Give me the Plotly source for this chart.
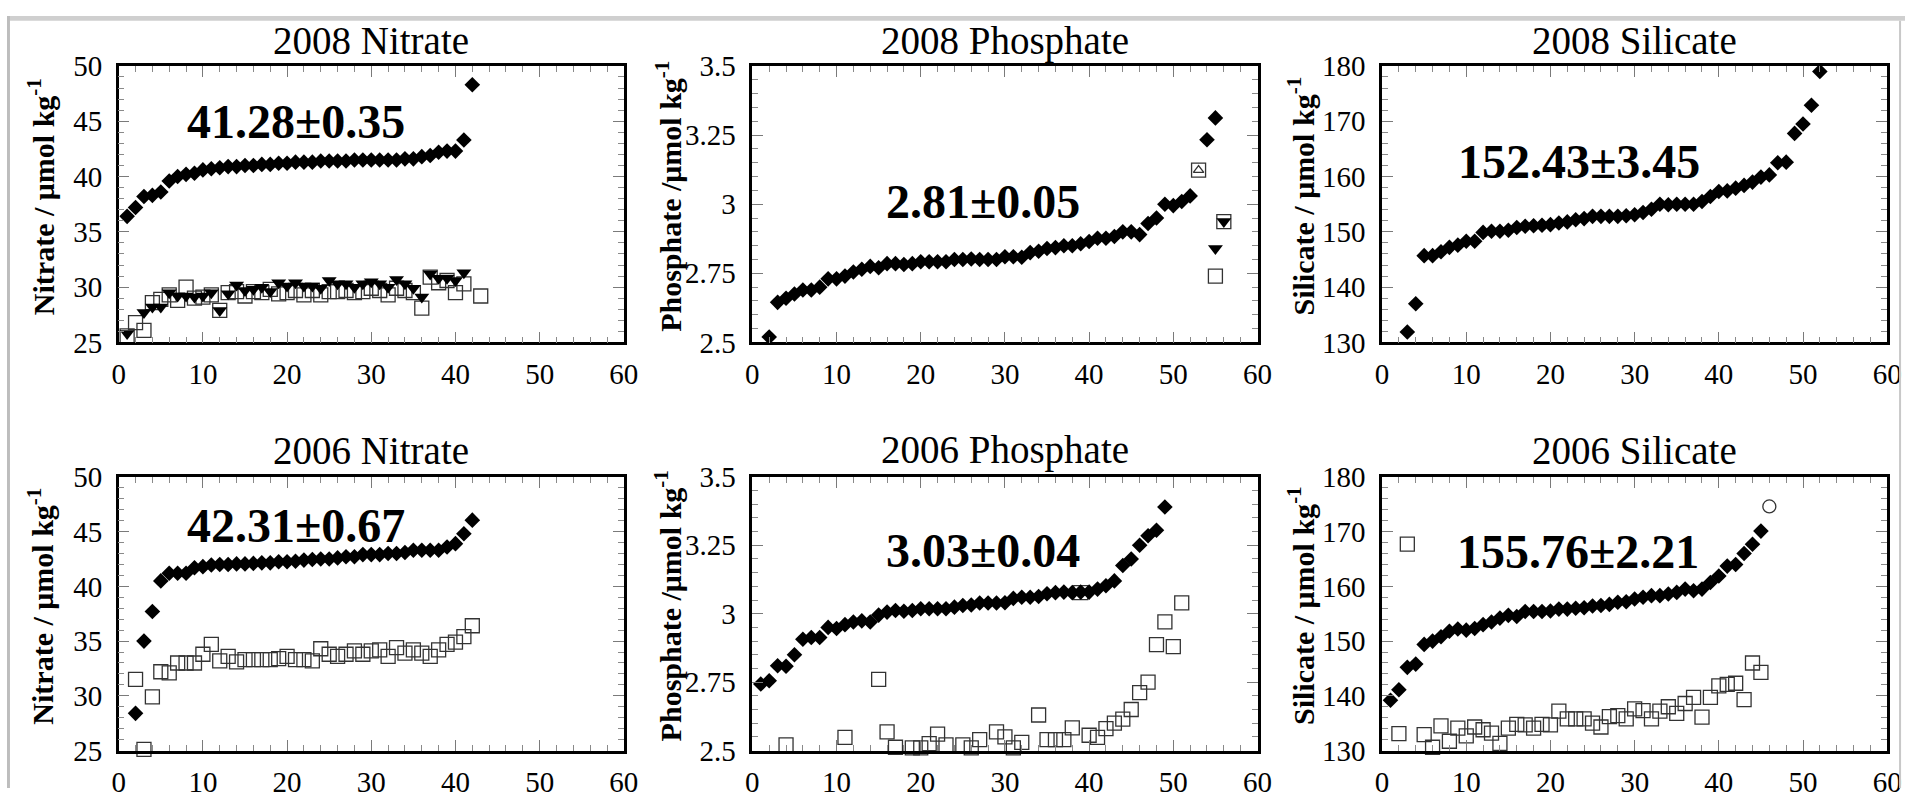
import plotly.graph_objects as go

# ---------------- data ----------------
n08_d_x = list(range(1, 43))
n08_d_y = [36.4, 37.2, 38.2, 38.3, 38.6, 39.6, 40.0, 40.2, 40.3, 40.6,
           40.7, 40.8, 40.9, 40.9, 41.0, 41.0, 41.1, 41.1, 41.2, 41.2,
           41.3, 41.3, 41.3, 41.4, 41.4, 41.4, 41.4, 41.5, 41.5, 41.5,
           41.5, 41.5, 41.5, 41.6, 41.6, 41.8, 41.9, 42.2, 42.3, 42.3,
           43.3, 48.3]
n08_sq_x = list(range(1, 42)) + [43]
n08_sq_y = [25.6, 26.8, 26.1, 28.6, 28.9, 29.3, 28.8, 30.0, 29.0, 29.1,
            29.3, 27.9, 29.5, 29.6, 29.2, 29.6, 29.5, 29.8, 29.4, 29.5,
            29.7, 29.3, 29.7, 29.3, 29.6, 29.6, 29.7, 29.5, 29.6, 29.9,
            29.7, 29.3, 29.9, 29.7, 29.5, 28.1, 30.9, 30.4, 30.6, 29.5,
            30.3, 29.2]
n08_tri_x = [1] + list(range(3, 42))
n08_tri_y = [25.8, 27.7, 28.2, 28.2, 29.5, 29.2, 29.2, 29.1, 29.2, 29.5,
             27.9, 29.4, 30.2, 29.7, 29.8, 30.0, 29.6, 30.4, 30.1, 30.4,
             30.1, 30.1, 29.9, 30.6, 30.3, 30.3, 30.0, 30.3, 30.5, 30.3,
             30.0, 30.7, 30.3, 29.9, 29.1, 31.2, 30.8, 30.8, 30.6, 31.3]

p08_d_x = list(range(2, 53)) + [54, 55]
p08_d_y = [2.52, 2.645, 2.66, 2.675, 2.69, 2.69, 2.70, 2.73, 2.73, 2.74,
           2.755, 2.765, 2.775, 2.77, 2.785, 2.785, 2.782, 2.785, 2.792, 2.792,
           2.792, 2.792, 2.80, 2.80, 2.802, 2.80, 2.80, 2.80, 2.81, 2.81,
           2.808, 2.825, 2.83, 2.84, 2.843, 2.85, 2.85, 2.857, 2.865, 2.877,
           2.877, 2.883, 2.90, 2.90, 2.89, 2.93, 2.95, 3.00, 2.995, 3.01,
           3.03, 3.233, 3.312]
p08_sq_x = [53, 55, 56]
p08_sq_y = [3.123, 2.74, 2.937]
p08_tri_x = [55, 56]
p08_tri_y = [2.84, 2.937]
p08_otri_x = [53]
p08_otri_y = [3.123]

s08_d_x = list(range(3, 53))
s08_d_y = [131.9, 137.0, 145.7, 145.7, 146.4, 147.2, 147.6, 148.3, 148.3, 149.9,
           150.1, 150.1, 150.3, 150.8, 151.0, 151.1, 151.2, 151.3, 151.6, 151.8,
           152.2, 152.4, 152.8, 152.8, 152.8, 152.8, 152.9, 153.1, 153.5, 154.1,
           155.0, 154.9, 155.0, 155.0, 155.0, 155.5, 156.4, 157.3, 157.4, 157.9,
           158.4, 159.0, 159.9, 160.3, 162.5, 162.6, 167.8, 169.5, 172.9, 179.0]

n06_d_x = list(range(2, 43))
n06_d_y = [28.4, 35.0, 37.7, 40.5, 41.2, 41.2, 41.2, 41.7, 41.8, 41.95,
           42.0, 42.0, 42.05, 42.05, 42.1, 42.15, 42.15, 42.25, 42.25, 42.3,
           42.4, 42.45, 42.5, 42.5, 42.6, 42.7, 42.7, 42.9, 42.9, 42.9,
           43.0, 43.0, 43.1, 43.3, 43.3, 43.3, 43.3, 43.6, 43.9, 44.8, 46.05]
n06_sq_x = list(range(2, 43))
n06_sq_y = [31.5, 25.1, 29.9, 32.2, 32.1, 33.0, 33.0, 33.0, 33.8, 34.7,
            33.2, 33.6, 33.1, 33.3, 33.3, 33.3, 33.3, 33.4, 33.6, 33.3,
            33.3, 33.2, 34.3, 33.8, 33.6, 33.8, 34.1, 33.8, 34.1, 34.2,
            33.6, 34.4, 33.9, 34.2, 33.9, 33.6, 34.2, 34.7, 34.9, 35.4, 36.4]

p06_d_x = list(range(1, 50))
p06_d_y = [2.743, 2.755, 2.81, 2.808, 2.85, 2.907, 2.913, 2.913, 2.95, 2.946,
           2.96, 2.97, 2.974, 2.97, 2.995, 3.006, 3.012, 3.009, 3.012, 3.018,
           3.018, 3.018, 3.018, 3.024, 3.03, 3.032, 3.039, 3.039, 3.039, 3.04,
           3.056, 3.06, 3.06, 3.063, 3.073, 3.077, 3.079, 3.077, 3.079, 3.079,
           3.09, 3.102, 3.12, 3.176, 3.2, 3.25, 3.285, 3.305, 3.39]
p06_sq_x = [4, 11, 15, 16, 17, 19, 20, 21, 22, 23, 25, 26, 27, 29, 30, 31, 32,
            34, 35, 36, 37, 38, 39, 40, 41, 42, 43, 44, 45, 46, 47, 48, 49, 50, 51]
p06_sq_y = [2.521, 2.548, 2.76, 2.568, 2.512, 2.51, 2.51, 2.525, 2.56, 2.521,
            2.521, 2.51, 2.54, 2.568, 2.55, 2.51, 2.53, 2.63, 2.54, 2.54,
            2.54, 2.583, 3.077, 2.556, 2.548, 2.58, 2.60, 2.615, 2.65, 2.712,
            2.75, 2.887, 2.97, 2.88, 3.04]

s06_d_x = list(range(1, 46))
s06_d_y = [139.2, 141.1, 145.2, 145.8, 149.4, 150.0, 150.8, 151.8, 152.2, 152.0,
           152.3, 153.0, 153.5, 154.2, 154.7, 154.5, 155.4, 155.4, 155.4, 155.5,
           155.85, 155.85, 156.0, 156.1, 156.4, 156.5, 156.7, 157.1, 157.2, 157.7,
           158.0, 158.3, 158.3, 158.6, 158.9, 159.5, 159.2, 159.5, 160.7, 161.9,
           163.7, 164.0, 166.0, 167.7, 170.1]
s06_sq_x = [2, 3] + list(range(5, 46))
s06_sq_y = [133.1, 167.7, 132.9, 130.6, 134.5, 131.7, 134.1, 132.7, 134.3, 133.8,
            133.2, 131.3, 134.1, 134.8, 134.7, 134.1, 134.8, 134.7, 137.2, 135.8,
            135.8, 135.8, 135.0, 134.3, 136.2, 136.4, 135.8, 137.6, 137.3, 135.8,
            137.2, 138.0, 136.8, 138.6, 139.7, 136.1, 139.7, 141.8, 142.1, 142.3,
            139.3, 146.0, 144.3]
s06_circ_x = [46]
s06_circ_y = [174.6]

panel_titles = ["2008 Nitrate", "2008 Phosphate", "2008 Silicate",
                "2006 Nitrate", "2006 Phosphate", "2006 Silicate"]
panel_means = ["41.28±0.35", "2.81±0.05", "152.43±3.45",
               "42.31±0.67", "3.03±0.04", "155.76±2.21"]
mean_pos_x = [21.1, 27.4, 23.4, 21.1, 27.4, 23.3]
mean_pos_y = [45.0, 3.01, 162.7, 45.6, 3.23, 166.4]
ytitles = ["Nitrate / μmol kg<sup>-1</sup>", "Phosphate /μmol kg<sup>-1</sup>",
           "Silicate / μmol kg<sup>-1</sup>"]

x_ticks = [0, 10, 20, 30, 40, 50, 60]
n_ticks = [25, 30, 35, 40, 45, 50]
p_ticks = [2.5, 2.75, 3, 3.25, 3.5]
p_ticktext = ["2.5", "2.75", "3", "3.25", "3.5"]
s_ticks = [130, 140, 150, 160, 170, 180]

# ---------------- figure ----------------
W, H = 1920, 804
FONT = "Liberation Serif, Times New Roman, serif"
col_px = [(113, 624), (754, 1265), (1391, 1902)]
row_px = [(52, 340), (480, 765)]
ytitle_x_px = [34, 669, 1309]
title_y_px = [26, 452]


def px_x(p):
    return p / W


def px_y(p):
    return 1 - p / H


fig = go.Figure()


def dmd(x, y, ax):
    fig.add_trace(go.Scatter(x=x, y=y, mode="markers", xaxis="x" + ax, yaxis="y" + ax,
                             marker=dict(symbol="diamond", size=12, color="black",
                                         line=dict(width=0)),
                             cliponaxis=False, showlegend=False))


def sq(x, y, ax):
    fig.add_trace(go.Scatter(x=x, y=y, mode="markers", xaxis="x" + ax, yaxis="y" + ax,
                             marker=dict(symbol="square-open", size=14, color="#333333",
                                         line=dict(width=1.3)),
                             cliponaxis=False, showlegend=False))


def tri(x, y, ax):
    fig.add_trace(go.Scatter(x=x, y=y, mode="markers", xaxis="x" + ax, yaxis="y" + ax,
                             marker=dict(symbol="triangle-down", size=13, color="black",
                                         line=dict(width=0)),
                             cliponaxis=False, showlegend=False))


sq(n08_sq_x, n08_sq_y, "")
tri(n08_tri_x, n08_tri_y, "")
dmd(n08_d_x, n08_d_y, "")
dmd(p08_d_x, p08_d_y, "2")
sq(p08_sq_x, p08_sq_y, "2")
tri(p08_tri_x, p08_tri_y, "2")
fig.add_trace(go.Scatter(x=p08_otri_x, y=p08_otri_y, mode="markers", xaxis="x2", yaxis="y2",
                         marker=dict(symbol="triangle-up-open", size=9, color="#333333",
                                     line=dict(width=1.3)),
                         cliponaxis=False, showlegend=False))
dmd(s08_d_x, s08_d_y, "3")
sq(n06_sq_x, n06_sq_y, "4")
dmd(n06_d_x, n06_d_y, "4")
sq(p06_sq_x, p06_sq_y, "5")
dmd(p06_d_x, p06_d_y, "5")
sq(s06_sq_x, s06_sq_y, "6")
dmd(s06_d_x, s06_d_y, "6")
fig.add_trace(go.Scatter(x=s06_circ_x, y=s06_circ_y, mode="markers", xaxis="x6", yaxis="y6",
                         marker=dict(symbol="circle-open", size=13, color="#333333",
                                     line=dict(width=1.3)),
                         cliponaxis=False, showlegend=False))


def base_axis():
    return dict(showline=True, linecolor="black", linewidth=2.5, mirror="ticks",
                ticks="inside", ticklen=11, tickwidth=1.3, tickcolor="#7a7a7a",
                showgrid=False, zeroline=False,
                tickfont=dict(family=FONT, size=29, color="black"))


yspecs = [
    (dict(range=[25, 50], tickvals=n_ticks), 1),
    (dict(range=[2.5, 3.5], tickvals=p_ticks, ticktext=p_ticktext), 0.05),
    (dict(range=[130, 180], tickvals=s_ticks), 2),
]

layout = {}
annotations = []
for i in range(6):
    r, c = divmod(i, 3)
    sfx = "" if i == 0 else str(i + 1)
    x0, x1 = col_px[c]
    y0, y1 = row_px[r]
    xa = base_axis()
    xa.update(range=[0, 60], tickvals=x_ticks, domain=[px_x(x0), px_x(x1)],
              anchor="y" + sfx, ticklabelstandoff=4,
              minor=dict(ticks="inside", ticklen=6, tickwidth=1, tickcolor="#8a8a8a", dtick=2))
    ya = base_axis()
    spec, mdt = yspecs[c]
    ya.update(spec)
    ya.update(domain=[px_y(y1), px_y(y0)], anchor="x" + sfx, ticklabelstandoff=8,
              minor=dict(ticks="inside", ticklen=6, tickwidth=1, tickcolor="#8a8a8a", dtick=mdt))
    layout["xaxis" + sfx] = xa
    layout["yaxis" + sfx] = ya
    annotations.append(dict(text=panel_titles[i], xref="paper", yref="paper",
                            x=px_x((x0 + x1) / 2), y=px_y(title_y_px[r]),
                            xanchor="center", yanchor="middle", showarrow=False,
                            font=dict(family=FONT, size=39, color="black")))
    annotations.append(dict(text="<b>" + panel_means[i] + "</b>", xref="x" + sfx, yref="y" + sfx,
                            x=mean_pos_x[i], y=mean_pos_y[i], xanchor="center", yanchor="middle",
                            showarrow=False, font=dict(family=FONT, size=48, color="black")))
    annotations.append(dict(text="<b>" + ytitles[c] + "</b>", xref="paper", yref="paper",
                            x=px_x(ytitle_x_px[c]), y=px_y((y0 + y1) / 2 - 8),
                            xanchor="center", yanchor="middle", textangle=-90, showarrow=False,
                            font=dict(family=FONT, size=30, color="black")))

fig.update_layout(**layout)
fig.update_layout(
    width=W, height=H, autosize=False,
    margin=dict(l=0, r=0, t=0, b=0),
    paper_bgcolor="white", plot_bgcolor="white",
    annotations=annotations,
    shapes=[
        dict(type="rect", xref="paper", yref="paper", x0=0, x1=1, y0=1 - 5 / H, y1=1,
             fillcolor="#cfcfcf", line=dict(width=0), layer="below"),
        dict(type="rect", xref="paper", yref="paper", x0=0, x1=3 / W, y0=0, y1=1,
             fillcolor="#bdbdbd", line=dict(width=0), layer="below"),
        dict(type="line", xref="paper", yref="paper", x0=1915 / W, x1=1915 / W, y0=0, y1=1 - 5 / H,
             line=dict(color="#c8c8c8", width=2)),
    ],
)

css_fix = (
    "var st=document.createElement('style');"
    "st.textContent='html,body{margin:0!important;padding:0!important;overflow:hidden!important;}';"
    "document.head.appendChild(st);"
)
fig.write_html("out.html", config={"displayModeBar": False}, post_script=css_fix)
